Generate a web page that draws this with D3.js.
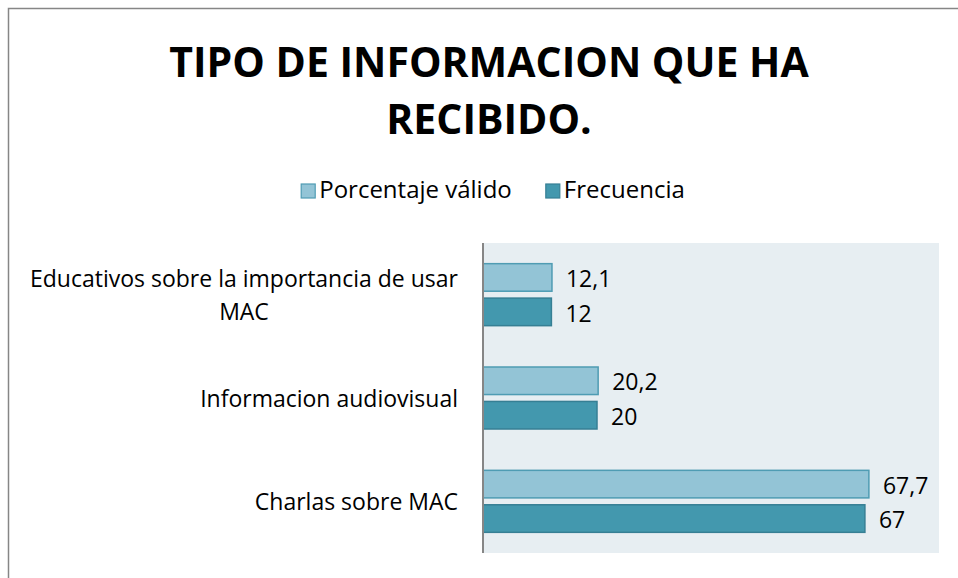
<!DOCTYPE html>
<html>
<head>
<meta charset="utf-8">
<script src="https://cdn.jsdelivr.net/npm/d3@7"></script>
<style>
  body { margin: 0; background: #fff; }
  text { font-family: "Open Sans", sans-serif; fill: #000; }
</style>
</head>
<body>
<script>
// données du graphique
const categories = [
  "Educativos sobre la importancia de usar MAC",
  "Informacion audiovisual",
  "Charlas sobre MAC"
];
const series = ["Porcentaje válido", "Frecuencia"];
const porcentaje = [12.1, 20.2, 67.7];
const frecuencia = [12, 20, 67];
const titulo = ["TIPO DE INFORMACION QUE HA", "RECIBIDO."];
// lignes des étiquettes (retour à la ligne comme dans l'original)
const lignesEtiquettes = [
  ["Educativos sobre la importancia de usar", "MAC"],
  ["Informacion audiovisual"],
  ["Charlas sobre MAC"]
];

const couleurs = { "Porcentaje válido": "#93c4d6", "Frecuencia": "#4398ae" };
const bords = { "Porcentaje válido": "#4f9cb3", "Frecuencia": "#367f94" };

const W = 958, H = 578;
const svg = d3.select("body").append("svg")
  .attr("width", W).attr("height", H);

// cadre extérieur
svg.append("rect")
  .attr("x", 8.5).attr("y", 8.5)
  .attr("width", 1000).attr("height", 1000)
  .attr("fill", "#fff")
  .attr("stroke", "#868686").attr("stroke-width", 1.5);

// titre
svg.append("g").selectAll("text")
  .data(titulo).enter().append("text")
  .attr("x", 489)
  .attr("y", (d, i) => 77 + i * 57)
  .attr("text-anchor", "middle")
  .style("font-size", "41px")
  .style("font-weight", "bold")
  .text(d => d);

// échelles
const plot = { left: 483, right: 939, top: 243, bottom: 553 };
const x = d3.scaleLinear().domain([0, 80]).range([plot.left, plot.right]);
const y = d3.scaleBand().domain(categories).range([plot.top, plot.bottom])
  .paddingInner(0.4).paddingOuter(0.2);
const ySub = d3.scaleBand().domain(series).range([0, y.bandwidth()]).paddingInner(0.2);

// fond de la zone de tracé
svg.append("rect")
  .attr("x", plot.left).attr("y", plot.top)
  .attr("width", plot.right - plot.left)
  .attr("height", plot.bottom - plot.top)
  .attr("fill", "#e7eef2");

const donnees = categories.map((c, i) => ({
  cat: c,
  valeurs: [
    { serie: series[0], v: porcentaje[i] },
    { serie: series[1], v: frecuencia[i] }
  ]
}));

const fmt = d3.formatLocale({ decimal: ",", thousands: ".", grouping: [3], currency: ["", ""] }).format("~r");

const groupes = svg.append("g").selectAll("g")
  .data(donnees).enter().append("g")
  .attr("transform", d => `translate(0,${y(d.cat)})`);

groupes.selectAll("rect")
  .data(d => d.valeurs).enter().append("rect")
  .attr("x", x(0))
  .attr("y", d => ySub(d.serie))
  .attr("width", d => x(d.v) - x(0))
  .attr("height", ySub.bandwidth())
  .attr("fill", d => couleurs[d.serie])
  .attr("stroke", d => bords[d.serie])
  .attr("stroke-width", 1.5);

groupes.selectAll("text")
  .data(d => d.valeurs).enter().append("text")
  .attr("x", d => x(d.v) + 14)
  .attr("y", d => ySub(d.serie) + ySub.bandwidth() / 2)
  .attr("dy", "0.42em")
  .style("font-size", "23px")
  .text(d => fmt(d.v));

// axe vertical
svg.append("line")
  .attr("x1", plot.left).attr("x2", plot.left)
  .attr("y1", plot.top).attr("y2", plot.bottom)
  .attr("stroke", "#868686").attr("stroke-width", 2);

// étiquettes des catégories
categories.forEach((c, i) => {
  const lignes = lignesEtiquettes[i];
  const cy = y(c) + y.bandwidth() / 2;
  const t = svg.append("text")
    .style("font-size", "23px")
    .attr("y", cy);
  lignes.forEach((l, j) => {
    t.append("tspan")
      .attr("y", cy + (j - (lignes.length - 1) / 2) * 33)
      .attr("dy", "0.38em")
      .text(l);
  });
  // aligner à droite le bloc, centrer les lignes dedans
  const largeurs = t.selectAll("tspan").nodes().map(n => n.getComputedTextLength());
  const maxL = d3.max(largeurs);
  const cx = 458 - maxL / 2;
  t.attr("text-anchor", "middle").selectAll("tspan").attr("x", cx);
});

// légende
const leg = svg.append("g");
let lx = 0;
series.forEach(s => {
  const g = leg.append("g").attr("transform", `translate(${lx},0)`);
  g.append("rect")
    .attr("x", 0).attr("y", -14)
    .attr("width", 14).attr("height", 14)
    .attr("fill", couleurs[s]).attr("stroke", bords[s]).attr("stroke-width", 1.2);
  const t = g.append("text")
    .attr("x", 18).attr("y", 0)
    .style("font-size", "24px")
    .text(s);
  lx += 18 + t.node().getComputedTextLength() + 34;
});
const legW = lx - 34;
leg.attr("transform", `translate(${493 - legW / 2},198)`);
</script>
</body>
</html>
